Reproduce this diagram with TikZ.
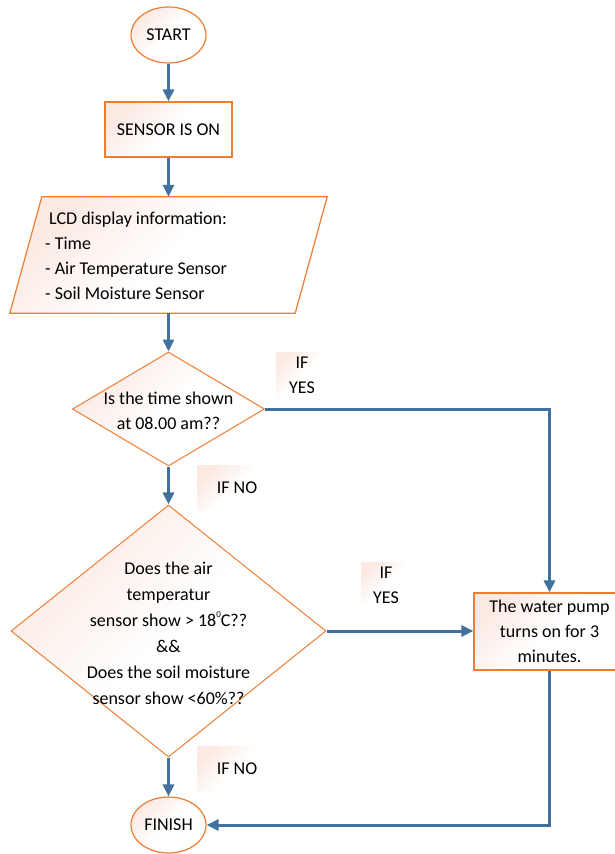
\documentclass[tikz,border=0pt]{standalone}
\usepackage{fontspec}
\setmainfont{Carlito}
\usetikzlibrary{shapes.geometric,arrows.meta}
\definecolor{flowor}{RGB}{237,125,49}
\definecolor{flowbl}{RGB}{65,113,156}
\definecolor{flowpk}{RGB}{251,233,226}
\begin{document}
\begin{tikzpicture}[x=1pt,y=-1pt,
  every node/.style={font=\fontsize{18}{25}\selectfont, text=black},
  shapefill/.style={draw=flowor, line width=1.2pt, top color=flowpk, bottom color=white, middle color=white, shading angle=45},
  termbox/.style={ellipse, shapefill, minimum width=75pt, minimum height=56pt, inner sep=0pt},
  procbox/.style={rectangle, shapefill, inner sep=0pt, align=center},
  decbox/.style={diamond, shapefill, line width=1pt, inner sep=0pt},
  lbl/.style={rectangle, top color=flowpk, bottom color=white, middle color=white, shading angle=45, align=center, inner sep=0pt},
  arr/.style={draw=flowbl, line width=3pt, -{Triangle[length=12pt,width=11pt]}}
]
\useasboundingbox (0,0) rectangle (614,854);
% shapes
\node[termbox] (start) at (168.5,35) {START};
\node[procbox, minimum width=127pt, minimum height=55pt] (sensor) at (168.5,129.5) {SENSOR IS ON};
\node[minimum width=285pt, minimum height=116pt, inner sep=0pt] (lcd) at (168.5,255) {};
\path[shapefill] ([xshift=-16pt]lcd.south west) -- ([xshift=-16pt]lcd.south east) -- ([xshift=16pt]lcd.north east) -- ([xshift=16pt]lcd.north west) -- cycle;
\node[anchor=west, align=left, inner sep=0pt] (lcdtext) at (45,255.5) {\hspace{4pt}LCD display information:\\- Time\\- Air Temperature Sensor\\- Soil Moisture Sensor};
\node[decbox, minimum width=192pt, minimum height=114pt] (q1) at (168.5,409) {};
\node[align=center, inner sep=0pt] (q1text) at (168.5,410.5) {Is the time shown\\at 08.00 am??};
\node[decbox, minimum width=315pt, minimum height=252pt] (q2) at (168.5,631) {};
\node[align=center, inner sep=0pt, font=\fontsize{18}{26}\selectfont] (q2text) at (168.5,633.5) {Does the air\\temperatur\\sensor show > 18\raisebox{1.1ex}{\fontsize{9}{9}\selectfont 0}C??\\\&\&\\Does the soil moisture\\sensor show <60\%??};
\node[procbox, minimum width=151pt, minimum height=77pt] (pump) at (549.5,631.5) {The water pump\\turns on for 3\\minutes.};
\node[termbox] (finish) at (168.5,825) {FINISH};
% labels
\node[lbl, minimum width=51pt, minimum height=46pt] (yes1) at (302,375) {IF\\YES};
\node[lbl, minimum width=80pt, minimum height=45pt] (no1) at (237,488) {IF NO};
\node[lbl, minimum width=50pt, minimum height=46pt] (yes2) at (386,585) {IF\\YES};
\node[lbl, minimum width=80pt, minimum height=46pt] (no2) at (237,769) {IF NO};
% connectors
\draw[arr] (start) -- (sensor);
\draw[arr] (sensor) -- (lcd.north);
\draw[arr] (lcd.south) -- (q1.north);
\draw[arr] (q1) -- (q2);
\draw[arr] (q2) -- (finish);
\draw[arr] (q1.east) -| (pump.north);
\draw[arr] (q2.east) -- (q2.east -| pump.west);
\draw[arr] (pump.south) |- (finish.east);
\end{tikzpicture}
\end{document}
